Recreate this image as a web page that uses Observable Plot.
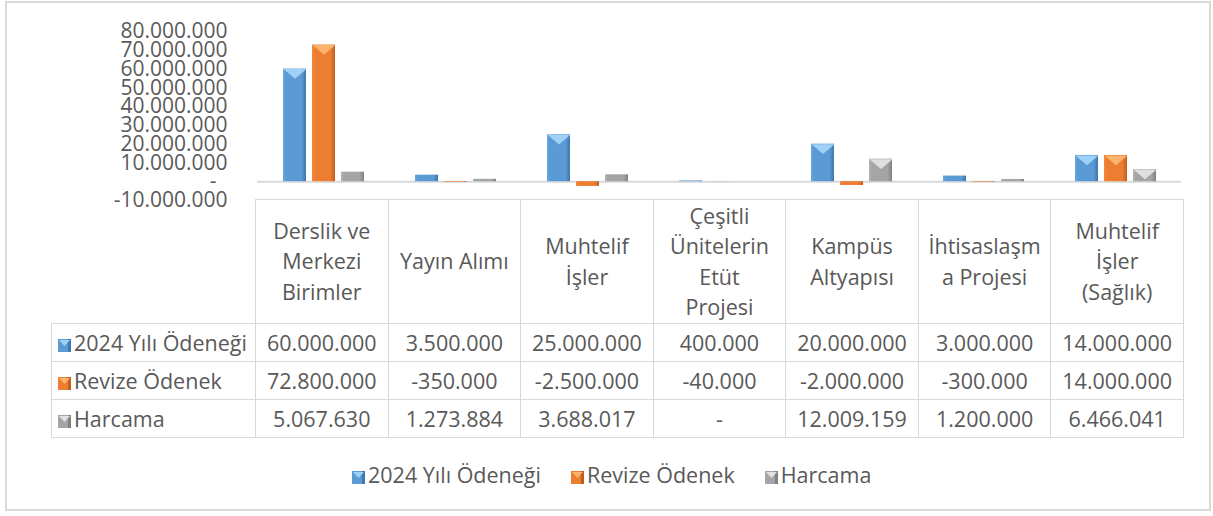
<!DOCTYPE html>
<html><head><meta charset="utf-8">
<script src="https://cdn.jsdelivr.net/npm/d3@7"></script>
<script src="https://cdn.jsdelivr.net/npm/@observablehq/plot@0.6"></script>
<style>
body{margin:0;background:#fff;font-family:"Open Sans",sans-serif;color:#595959;}
#wrap{position:relative;width:1213px;height:516px;overflow:hidden;background:#fff}
#frame{position:absolute;left:5px;top:1px;width:1206px;height:510px;border:2px solid #d9d9d9;box-sizing:border-box}
#chart{position:absolute;left:0;top:0}
#tbl{position:absolute;left:51px;top:199px;border-collapse:collapse;table-layout:fixed;font-size:21.5px;color:#595959}
#tbl td,#tbl th{border:1px solid #d9d9d9;padding:0;font-weight:normal;text-align:center;vertical-align:middle}
#tbl th{height:123px;line-height:30.5px;white-space:pre-line}
#tbl td{height:37px;white-space:nowrap}
#tbl td.corner{border:none}
#tbl td.rowh{text-align:left;padding-left:6px}
.sw{display:inline-block;vertical-align:-1px;margin-right:3px}
#legend{position:absolute;left:352px;top:459px;font-size:21.5px;display:flex;gap:30px;white-space:nowrap;line-height:32px}
</style>
</head><body>
<div id="wrap">
  <div id="frame"></div>
  <div id="chart"></div>
  <table id="tbl"></table>
  <div id="legend"></div>
</div>
<script>
// ---- data ----
const categories = ["Derslik ve\nMerkezi\nBirimler", "Yayın Alımı", "Muhtelif\nİşler", "Çeşitli\nÜnitelerin\nEtüt\nProjesi", "Kampüs\nAltyapısı", "İhtisaslaşm\na Projesi", "Muhtelif\nİşler\n(Sağlık)"];
const seriesNames = ["2024 Yılı Ödeneği", "Revize Ödenek", "Harcama"];
const odenek2024 = [60000000, 3500000, 25000000, 400000, 20000000, 3000000, 14000000];
const revizeOdenek = [72800000, -350000, -2500000, -40000, -2000000, -300000, 14000000];
const harcama = [5067630, 1273884, 3688017, 0, 12009159, 1200000, 6466041];
const yTicks = [-10000000, 0, 10000000, 20000000, 30000000, 40000000, 50000000, 60000000, 70000000, 80000000];

// ---- styles ----
const faceColors = ["#5b9bd5", "#ed7d31", "#a5a5a5"];
const edgeLight = ["#6aa8e0", "#f28a40", "#b5b5b5"];
const edgeDark = ["#3f77b0", "#c0601f", "#808080"];
const topColors = ["#9fd0f5", "#fbb36e", "#e0e0e0"];

const seriesValues = [odenek2024, revizeOdenek, harcama];
const rows = categories.flatMap((c, i) => seriesNames.map((s, j) => ({category: c, series: s, value: seriesValues[j][i]})));

const fmt = d3.formatLocale({decimal: ",", thousands: ".", grouping: [3], currency: ["", ""], minus: "-"}).format(",d");
const tickFmt = d => d === 0 ? "-\u00a0\u00a0" : fmt(d);
const cellFmt = d => d === 0 ? "-" : fmt(d);

const downTri = {
  draw(ctx, size) {
    const r = Math.sqrt(size / Math.PI);
    ctx.moveTo(-r, 0); ctx.lineTo(r, 0); ctx.lineTo(0, r * 0.85); ctx.closePath();
  }
};

const marks = [Plot.ruleY([0], {stroke: "#d9d9d9", strokeWidth: 2})];
seriesNames.forEach((s, j) => {
  marks.push(Plot.barY(rows.filter(r => r.series === s), {fx: "category", x: "series", y: "value", fill: `url(#grad${j})`}));
});
seriesNames.forEach((s, j) => {
  marks.push(Plot.dot(rows.filter(r => r.series === s && r.value > 6000000), {fx: "category", x: "series", y: "value", r: 11.5, symbol: downTri, fill: topColors[j], stroke: "none"}));
});

const chart = Plot.plot({
  width: 1213,
  height: 216,
  marginTop: 31,
  marginBottom: 16,
  marginLeft: 255,
  marginRight: 30,
  style: {background: "transparent", fontFamily: "Open Sans", fontSize: "21px", color: "#595959"},
  fx: {domain: categories, padding: 0, axis: null, label: null},
  x: {domain: seriesNames, paddingInner: 0.22, paddingOuter: 0.857, axis: null, label: null},
  y: {domain: [-10000000, 80000000], ticks: yTicks, tickFormat: tickFmt, tickSize: 0, tickPadding: 30, label: null},
  marks
});

const svg = d3.select(chart);
const defs = svg.insert("defs", ":first-child");
faceColors.forEach((c, j) => {
  const g = defs.append("linearGradient").attr("id", `grad${j}`).attr("x1", "0").attr("x2", "1").attr("y1", "0").attr("y2", "0");
  g.append("stop").attr("offset", "0%").attr("stop-color", edgeLight[j]);
  g.append("stop").attr("offset", "12%").attr("stop-color", c);
  g.append("stop").attr("offset", "80%").attr("stop-color", c);
  g.append("stop").attr("offset", "100%").attr("stop-color", edgeDark[j]);
});
document.getElementById("chart").appendChild(chart);

// ---- swatch ----
function swatch(j) {
  return `<svg class="sw" width="13" height="13" viewBox="0 0 13 13"><rect width="13" height="13" fill="${faceColors[j]}"/><rect x="10" width="3" height="13" fill="${edgeDark[j]}"/><polygon points="1,1 12,1 6.5,7" fill="${topColors[j]}"/></svg>`;
}

// ---- data table ----
const tbl = document.getElementById("tbl");
let html = `<colgroup><col style="width:204px">${categories.map(() => `<col style="width:132.57px">`).join("")}</colgroup>`;
html += `<tr><td class="corner"></td>${categories.map(c => `<th>${c}</th>`).join("")}</tr>`;
seriesNames.forEach((s, j) => {
  html += `<tr><td class="rowh">${swatch(j)}${s}</td>${seriesValues[j].map(v => `<td>${cellFmt(v)}</td>`).join("")}</tr>`;
});
tbl.innerHTML = html;

// ---- legend ----
document.getElementById("legend").innerHTML = seriesNames.map((s, j) => `<span>${swatch(j)}${s}</span>`).join("");
</script>
</body></html>
